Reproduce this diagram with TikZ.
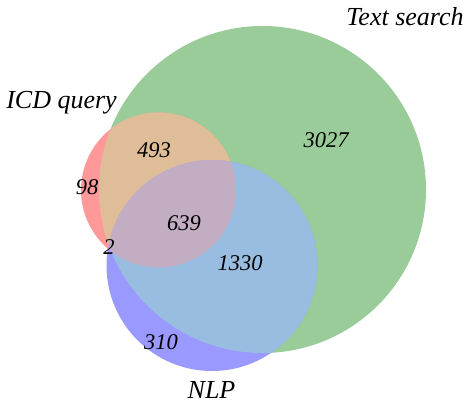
\documentclass[tikz,border=0pt]{standalone}
\usepackage{fontspec}
\setmainfont{Liberation Serif}
\definecolor{icd}{RGB}{255,153,153}
\definecolor{txt}{RGB}{153,204,153}
\definecolor{nlp}{RGB}{153,153,255}
\definecolor{icdtxt}{RGB}{224,189,153}
\definecolor{txtnlp}{RGB}{153,189,224}
\definecolor{icdnlp}{RGB}{224,153,224}
\definecolor{allthree}{RGB}{194,173,194}

\begin{document}
\begin{tikzpicture}[x=1pt, y=-1pt,
    % Styles
    set label/.style={font=\fontsize{26}{30}\selectfont\itshape, inner sep=0, anchor=base},
    count label/.style={font=\fontsize{22.5}{26}\selectfont\itshape, inner sep=0},
]
    \useasboundingbox (0,0) rectangle (469,404);

    % Circle centres
    \coordinate (icd c) at (158.5,190);
    \coordinate (txt c) at (262.5,189.5);
    \coordinate (nlp c) at (212,265.5);
    \def\icdr{77.5}
    \def\txtr{163.5}
    \def\nlpr{105.5}

    % Single sets
    \fill[txt] (txt c) circle[radius=\txtr];
    \fill[icd] (icd c) circle[radius=\icdr];
    \fill[nlp] (nlp c) circle[radius=\nlpr];

    % Pairwise overlaps
    \begin{scope}
        \clip (icd c) circle[radius=\icdr];
        \fill[icdtxt] (txt c) circle[radius=\txtr];
        \fill[icdnlp] (nlp c) circle[radius=\nlpr];
    \end{scope}
    \begin{scope}
        \clip (txt c) circle[radius=\txtr];
        \fill[txtnlp] (nlp c) circle[radius=\nlpr];
    \end{scope}

    % Triple overlap
    \begin{scope}
        \clip (icd c) circle[radius=\icdr];
        \clip (txt c) circle[radius=\txtr];
        \fill[allthree] (nlp c) circle[radius=\nlpr];
    \end{scope}

    % Set names
    \node[set label] (txt label) at (405,26) {Text search};
    \node[set label] (icd label) at (61.5,109) {ICD query};
    \node[set label] (nlp label) at (211.5,398) {NLP};

    % Region counts
    \node[count label] (n3027) at (326,140) {3027};
    \node[count label] (n493) at (154,150) {493};
    \node[count label] (n98) at (87,187) {98};
    \node[count label] (n639) at (184,223) {639};
    \node[count label] (n2) at (109,247) {2};
    \node[count label] (n1330) at (240,263) {1330};
    \node[count label] (n310) at (161,342) {310};
\end{tikzpicture}
\end{document}
